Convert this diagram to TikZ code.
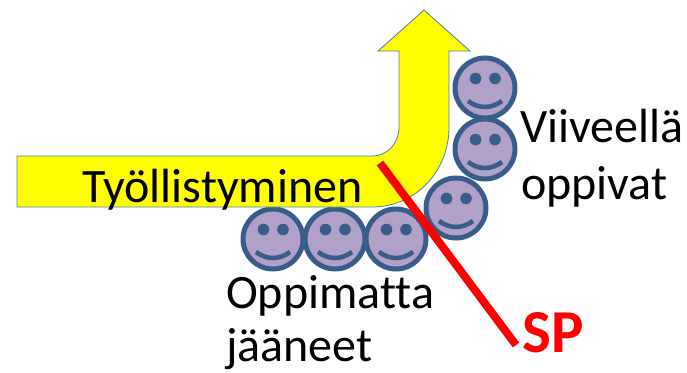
\documentclass[tikz,border=0pt]{standalone}
\usepackage{fontspec}
\setmainfont[Ligatures=NoCommon]{Carlito}
\definecolor{smfill}{HTML}{B1A0C7}
\definecolor{smline}{HTML}{385D8A}
\definecolor{arrowline}{HTML}{4A7EBB}
\definecolor{arrowfill}{rgb}{1,1,0}
\definecolor{redline}{rgb}{1,0,0}
\tikzset{
  x=1pt,y=-1pt,
  smileface/.pic={
    \node[circle,draw=smline,fill=smfill,line width=5pt,minimum size=60pt,inner sep=0pt] (-face) at (0,0) {};
    \fill[smline] (-9.5,-9.5) circle (5.8pt) (10,-9.5) circle (5.8pt);
    \draw[smline,line width=4.6pt] (-17,13) .. controls (-6,21) and (6,21) .. (17,13);
  },
  lbl/.style={inner sep=0pt,font=\fontsize{48}{58}\selectfont,text=black,align=left,anchor=base west},
}
\begin{document}
\begin{tikzpicture}
\useasboundingbox (0,0) rectangle (687,372);
\pic (s1) at (273,239) {smileface};
\pic (s2) at (335,239) {smileface};
\pic (s3) at (396,239) {smileface};
\pic (s4) at (456,208) {smileface};
\pic (s5) at (485,88) {smileface};
\pic (s6) at (485,149) {smileface};
\draw[arrowline,fill=arrowfill,line width=0.8pt] (17,156) -- (372,156)
  .. controls (388,156) and (399,143) .. (399,127)
  -- (399,51) -- (378,51) -- (424,10) -- (470,51) -- (449,51) -- (449,127)
  .. controls (449,172) and (415,207) .. (372,207)
  -- (17,207) -- cycle;
\node[lbl] (job) at (82,202) {Työllistyminen};
\node[lbl] (late) at (520,142) {Viiveellä};
\node[lbl] (late2) at (521,199.5) {oppivat};
\node[lbl] (left) at (226,308) {Oppimatta};
\node[lbl] (left2) at (226,361) {jääneet};
\node[inner sep=0pt,anchor=base west,text=redline,font=\fontsize{61}{72}\selectfont\bfseries] (sp) at (522,352.5) {SP};
\coordinate (redtop) at (380,163);
\coordinate (redend) at (516,345);
\draw[redline,line width=8pt] (redtop) -- (redend);
\end{tikzpicture}
\end{document}
